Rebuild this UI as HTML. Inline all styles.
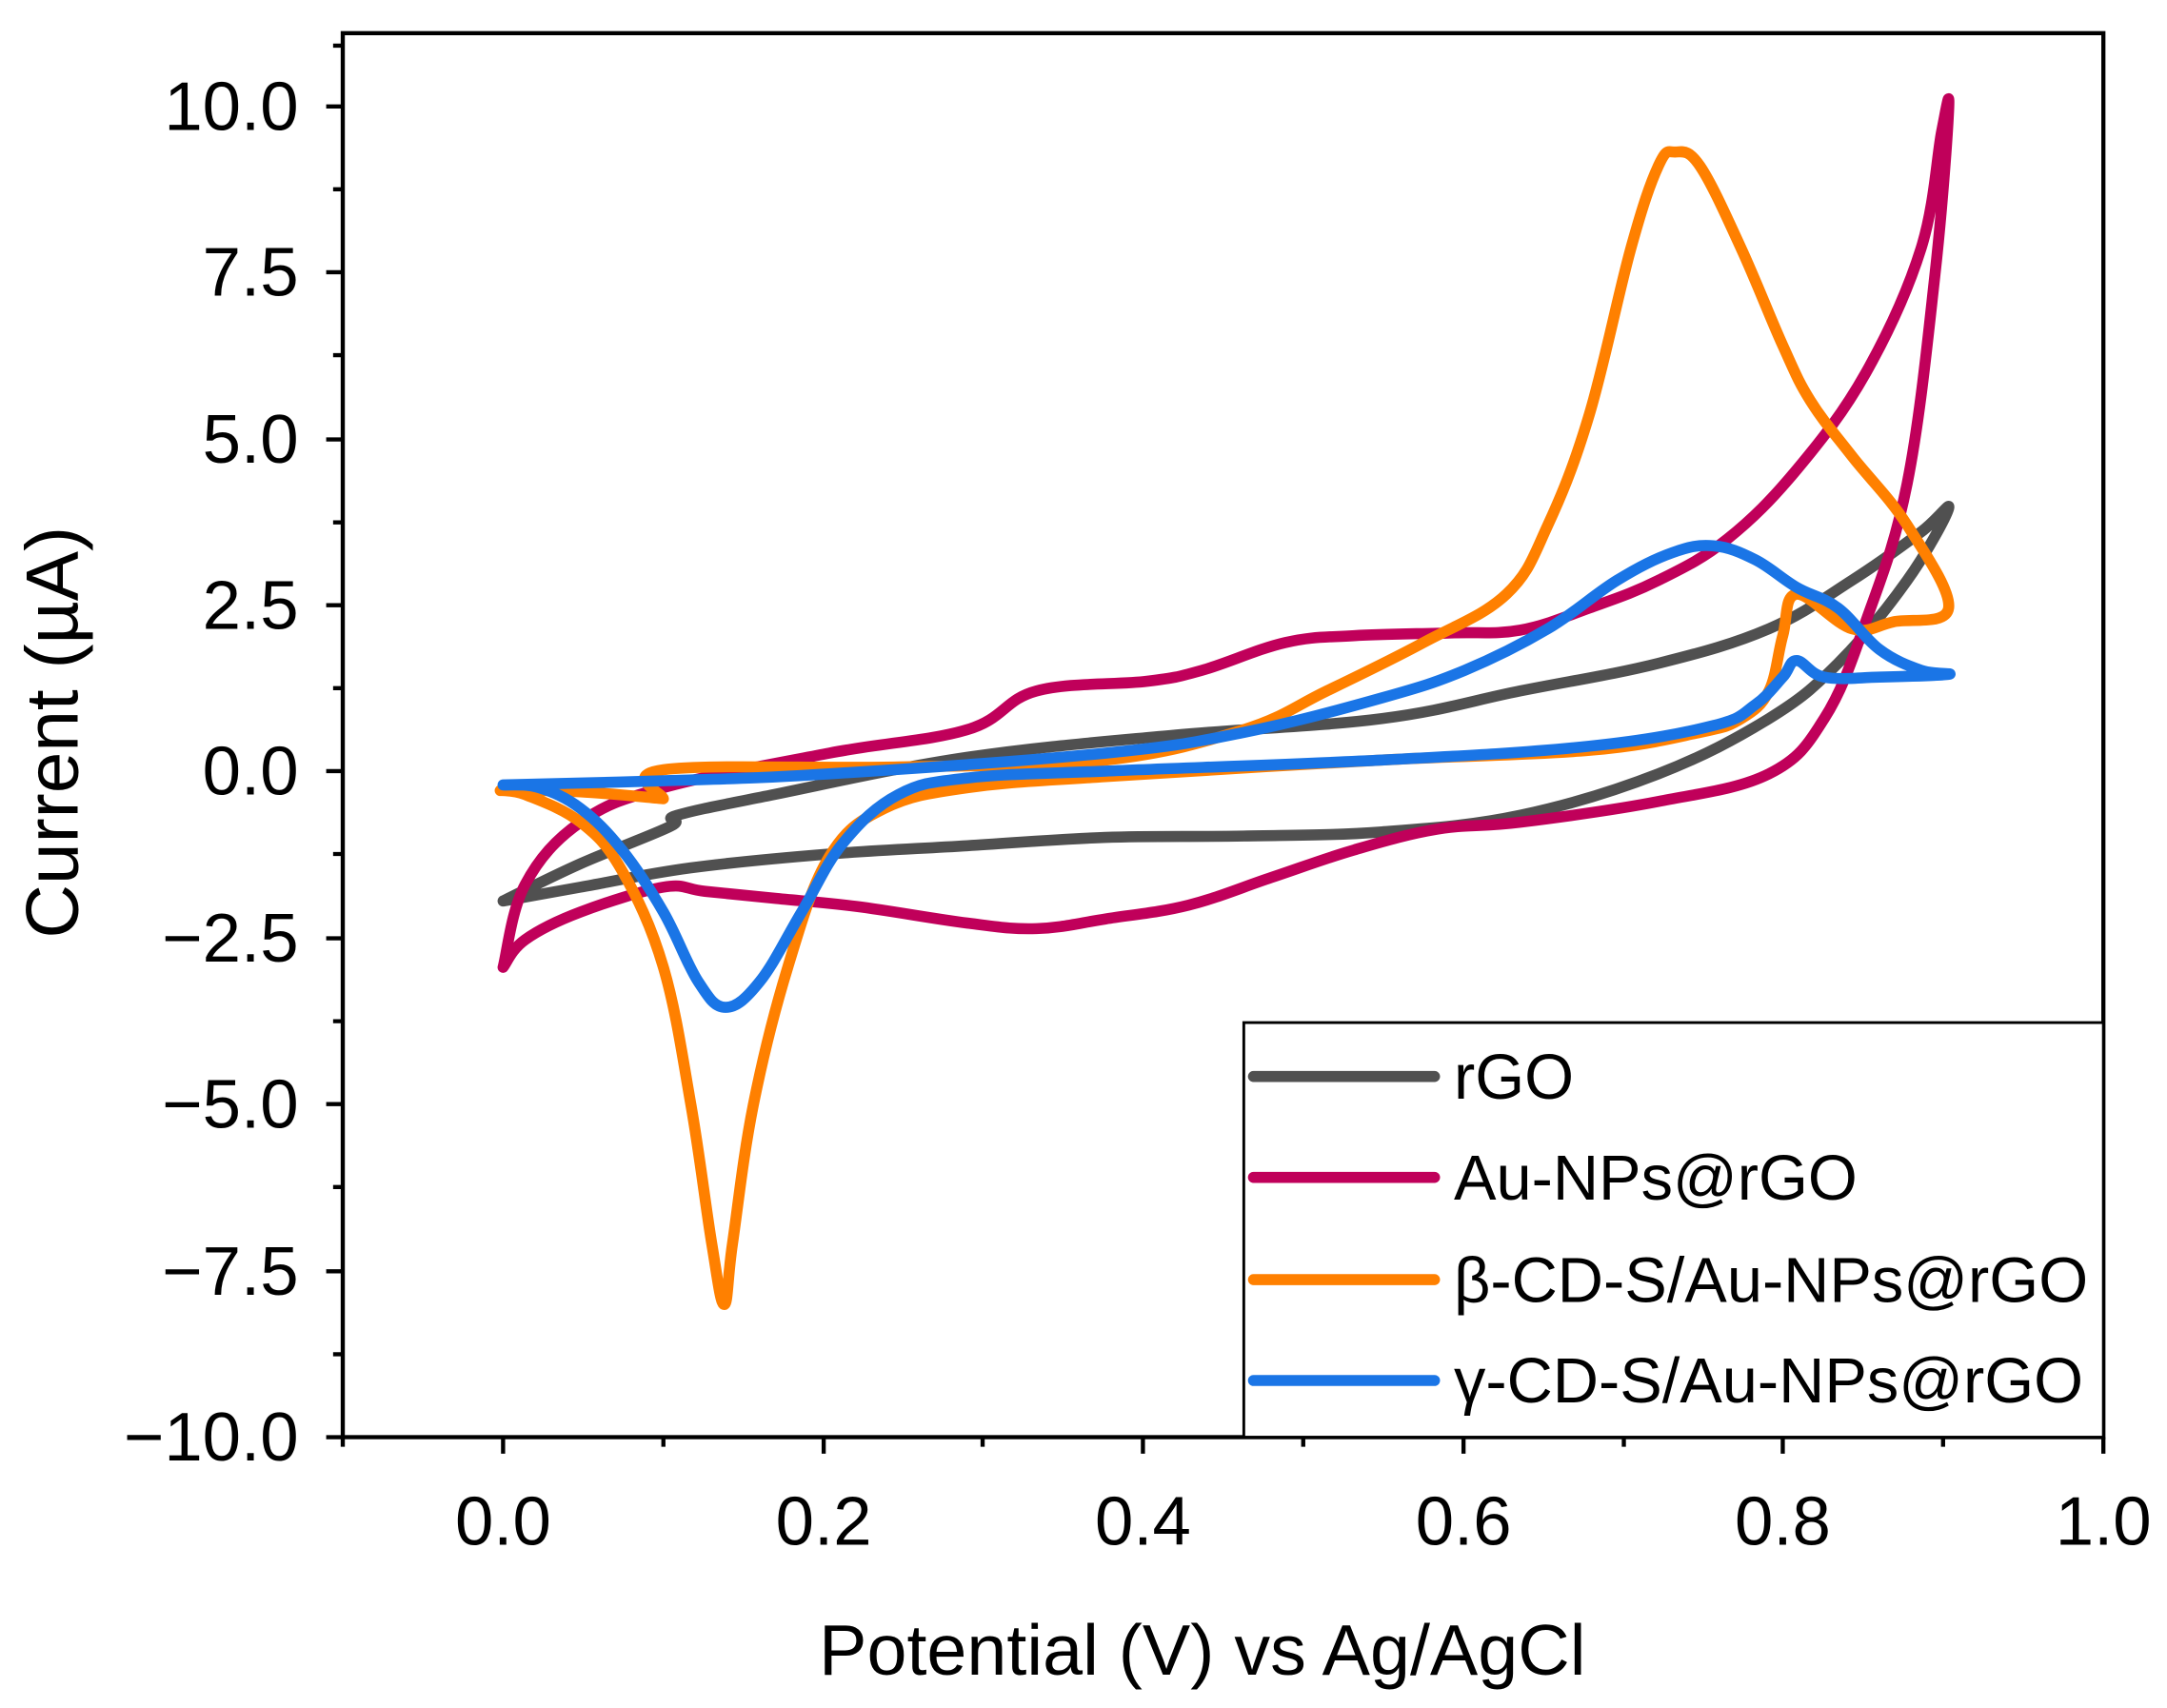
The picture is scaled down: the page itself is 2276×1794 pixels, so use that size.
<!DOCTYPE html>
<html><head><style>html,body{margin:0;padding:0;background:#fff}svg{display:block}</style></head>
<body>
<svg id="s" width="2276" height="1794" viewBox="0 0 1568 1236" xmlns="http://www.w3.org/2000/svg" font-family="Liberation Sans, DejaVu Sans, sans-serif">
<rect width="1568" height="1236" fill="#fff"/>
<g id="series" fill="none" stroke-linejoin="round" stroke-linecap="round" stroke-width="8">
<polyline stroke="#505050" points="364,652 420,625 485,598 490,590 560,575 700,548 850,532 1000,520 1100,500 1200,480 1280,455 1340,420 1390,385 1410,368 1380,420 1330,480 1280,520 1200,560 1100,590 1000,602 900,605 800,606 700,612 600,618 500,628 420,642 364,652"/>
<polyline stroke="#c0005a" points="364,700 380,640 420,595 480,570 600,545 700,528 750,500 830,493 870,485 930,465 980,460 1050,458 1100,456 1150,440 1200,420 1250,390 1300,340 1350,270 1390,180 1405,95 1410,80 1400,200 1380,350 1350,450 1320,520 1280,560 1200,580 1100,595 1040,600 980,615 920,635 860,655 800,665 750,672 700,668 620,656 560,650 510,645 480,642 420,660 380,680 364,700"/>
<polyline stroke="#ff8000" points="480,578 480,557 650,555 800,550 900,528 960,500 1030,465 1090,430 1120,380 1150,300 1180,180 1200,120 1212,110 1230,120 1260,180 1290,250 1310,290 1340,330 1380,380 1410,440 1370,450 1340,455 1300,430 1290,460 1280,500 1260,520 1230,530 1150,543 1000,550 800,562 700,570 640,585 600,620 570,700 545,800 530,900 524,944 515,900 500,800 480,700 450,630 420,595 380,575 364,572 420,573 480,578"/>
<polyline stroke="#1a75e6" points="364,568 480,565 600,560 800,545 900,530 1000,505 1060,485 1120,455 1170,420 1210,400 1240,395 1270,405 1300,425 1330,440 1360,470 1390,485 1410,488 1360,490 1320,490 1300,478 1290,490 1270,510 1240,525 1150,540 1000,550 800,558 700,563 650,575 610,610 580,660 550,710 525,729 505,710 480,660 450,615 420,585 390,570 364,568"/>
</g>
<g stroke="#000" stroke-width="3" fill="none">
<rect x="248" y="24" width="1274" height="1016"/>
<path d="M248,77h-12M248,197h-12M248,318h-12M248,438h-12M248,558h-12M248,679h-12M248,799h-12M248,920h-12M248,1040h-12"/>
<path d="M248,137h-7M248,257h-7M248,378h-7M248,498h-7M248,618h-7M248,739h-7M248,859h-7M248,980h-7M248,33h-7"/>
<path d="M364,1040v12M596,1040v12M827,1040v12M1059,1040v12M1290,1040v12M1522,1040v12"/>
<path d="M248,1040v7M480,1040v7M711,1040v7M943,1040v7M1175,1040v7M1406,1040v7"/>
</g>
<g font-size="50" fill="#000" text-anchor="end">
<text x="216" y="94">10.0</text><text x="216" y="214">7.5</text><text x="216" y="335">5.0</text><text x="216" y="455">2.5</text><text x="216" y="575">0.0</text><text x="216" y="696">−2.5</text><text x="216" y="816">−5.0</text><text x="216" y="937">−7.5</text><text x="216" y="1057">−10.0</text>
</g>
<g font-size="50" fill="#000" text-anchor="middle">
<text x="364" y="1118">0.0</text><text x="596" y="1118">0.2</text><text x="827" y="1118">0.4</text><text x="1059" y="1118">0.6</text><text x="1290" y="1118">0.8</text><text x="1522" y="1118">1.0</text>
<text x="870" y="1212" font-size="52">Potential (V) vs Ag/AgCl</text>
<text transform="translate(56,530) rotate(-90)" font-size="54">Current (µA)</text>
</g>
<rect x="900" y="740" width="622" height="300" fill="#fff" stroke="#000" stroke-width="2"/>
<g stroke-width="8" stroke-linecap="round">
<line x1="907" y1="779" x2="1038" y2="779" stroke="#505050"/>
<line x1="907" y1="852" x2="1038" y2="852" stroke="#c0005a"/>
<line x1="907" y1="926" x2="1038" y2="926" stroke="#ff8000"/>
<line x1="907" y1="999" x2="1038" y2="999" stroke="#1a75e6"/>
</g>
<g font-size="46" fill="#000">
<text x="1052" y="795">rGO</text>
<text x="1052" y="868">Au-NPs@rGO</text>
<text x="1052" y="942">β-CD-S/Au-NPs@rGO</text>
<text x="1052" y="1015">γ-CD-S/Au-NPs@rGO</text>
</g>
</svg>
<script>
(function(){
var g=document.getElementById('series');
var pls=Array.prototype.slice.call(g.querySelectorAll('polyline'));
pls.forEach(function(pl){
 var p=pl.getAttribute('points').trim().split(/\s+/).map(function(s){var a=s.split(',');return[+a[0],+a[1]];});
 var d='M'+p[0][0]+','+p[0][1];
 for(var i=0;i<p.length-1;i++){
  var p0=p[Math.max(0,i-1)],p1=p[i],p2=p[i+1],p3=p[Math.min(p.length-1,i+2)];
  var t=0.18;
  var c1=[p1[0]+(p2[0]-p0[0])*t,p1[1]+(p2[1]-p0[1])*t];
  var c2=[p2[0]-(p3[0]-p1[0])*t,p2[1]-(p3[1]-p1[1])*t];
  d+=' C'+c1[0].toFixed(1)+','+c1[1].toFixed(1)+' '+c2[0].toFixed(1)+','+c2[1].toFixed(1)+' '+p2[0]+','+p2[1];
 }
 var path=document.createElementNS('http://www.w3.org/2000/svg','path');
 path.setAttribute('d',d);path.setAttribute('stroke',pl.getAttribute('stroke'));
 g.replaceChild(path,pl);
});
})();
</script>
</body></html>
